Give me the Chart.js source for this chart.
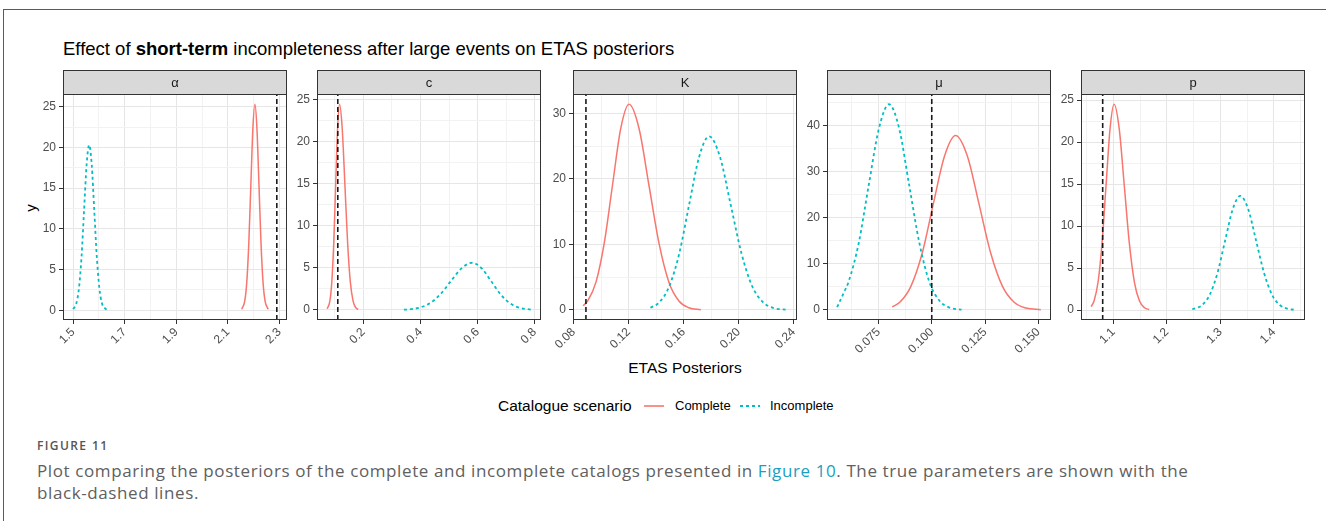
<!DOCTYPE html>
<html>
<head>
<meta charset="utf-8">
<script src="https://cdn.jsdelivr.net/npm/chart.js@4.4.1/dist/chart.umd.min.js"></script>
<style>
html,body{margin:0;padding:0;background:#fff;}
#page{position:relative;width:1326px;height:521px;overflow:hidden;font-family:"Liberation Sans",Arial,sans-serif;background:#fff;}
.frame{position:absolute;left:3px;top:9px;width:1400px;height:600px;border-left:1px solid #5a5a5a;border-top:1px solid #5a5a5a;}
canvas{position:absolute;}
.title{position:absolute;left:63px;top:40px;font-size:18.5px;line-height:18px;color:#000;white-space:nowrap;}
.title b{font-weight:bold;}
.ytitle{position:absolute;left:22px;top:199px;width:18px;height:18px;font-size:15px;line-height:18px;color:#000;transform:rotate(-90deg);text-align:center;}
.xtitle{position:absolute;left:585px;top:359px;width:200px;text-align:center;font-size:15.5px;line-height:18px;color:#000;}
.legtitle{position:absolute;left:498px;top:397px;font-size:15.5px;line-height:18px;color:#000;white-space:nowrap;}
.legtxt{position:absolute;top:398px;font-size:13px;line-height:16px;color:#000;white-space:nowrap;}
.legkey{position:absolute;top:397px;}
.caption{position:absolute;left:37px;font-family:"Open Sans","Noto Sans",sans-serif;color:#606060;white-space:nowrap;}
.fig{top:438px;font-size:12px;line-height:16px;letter-spacing:1.4px;font-weight:600;color:#555;}
.cap1{top:460px;font-size:17px;line-height:22px;letter-spacing:0.6px;}
.cap2{top:482px;font-size:17px;line-height:22px;letter-spacing:0.6px;}
.cap1 span{color:#1a9fc0;}
</style>
</head>
<body>
<div id="page">
  <div class="frame"></div>
  <div class="title">Effect of <b>short-term</b> incompleteness after large events on ETAS posteriors</div>
  <div class="ytitle">y</div>
  <div class="xtitle">ETAS Posteriors</div>
  <div class="legtitle">Catalogue scenario</div>
  <svg class="legkey" style="left:642px" width="24" height="18"><line x1="2" y1="9" x2="22" y2="9" stroke="#F8766D" stroke-width="1.6"/></svg>
  <div class="legtxt" style="left:675px">Complete</div>
  <svg class="legkey" style="left:738px" width="24" height="18"><line x1="2" y1="9" x2="22" y2="9" stroke="#00BFC4" stroke-width="1.8" stroke-dasharray="3,3"/></svg>
  <div class="legtxt" style="left:770px">Incomplete</div>
  <div class="caption fig">FIGURE 11</div>
  <div class="caption cap1">Plot comparing the posteriors of the complete and incomplete catalogs presented in <span>Figure 10</span>. The true parameters are shown with the</div>
  <div class="caption cap2">black-dashed lines.</div>
</div>
<script>
// ---------------- DATA ----------------
const panelNames = ['α', 'c', 'K', 'μ', 'p'];
const trueValues = [2.29, 0.11, 0.089, 0.1, 1.08];
const seriesNames = ['Complete', 'Incomplete'];

// alpha
const alphaCompleteX = [2.154, 2.1655, 2.1734, 2.1813, 2.1892, 2.1971, 2.205, 2.2129, 2.2208, 2.2287, 2.2366, 2.2445, 2.2564];
const alphaCompleteY = [0.13, 1.11, 3.42, 8.21, 15.34, 22.33, 25.3, 22.33, 15.34, 8.21, 3.42, 1.11, 0.13];
const alphaIncompleteX = [1.500, 1.5128, 1.5226, 1.5325, 1.5423, 1.5522, 1.562, 1.5719, 1.5817, 1.5916, 1.6014, 1.6113, 1.629];
const alphaIncompleteY = [0.14, 0.89, 2.75, 6.59, 12.31, 17.91, 20.3, 17.91, 12.31, 6.59, 2.75, 0.89, 0.06];
// c
const cCompleteX = [0.0728, 0.0823, 0.089, 0.0958, 0.1025, 0.1093, 0.116, 0.1255, 0.135, 0.1445, 0.154, 0.1635, 0.173, 0.1816];
const cCompleteY = [0.15, 1.07, 3.30, 7.92, 14.80, 21.53, 24.4, 21.53, 14.80, 7.92, 3.30, 1.07, 0.27, 0.06];
const cIncompleteX = [0.3418, 0.3673, 0.3935, 0.431, 0.4685, 0.506, 0.5435, 0.581, 0.6145, 0.648, 0.6815, 0.715, 0.7485, 0.7867];
const cIncompleteY = [0.03, 0.10, 0.25, 0.76, 1.82, 3.40, 4.94, 5.6, 4.94, 3.40, 1.82, 0.76, 0.25, 0.05];
// K
const kCompleteX = [0.087, 0.0903, 0.0963, 0.1023, 0.1083, 0.1143, 0.1203, 0.1276, 0.1348, 0.1421, 0.1493, 0.1566, 0.1638, 0.1725];
const kCompleteY = [0.66, 1.38, 4.25, 10.20, 19.04, 27.71, 31.4, 27.71, 19.04, 10.20, 4.25, 1.38, 0.35, 0.05];
const kIncompleteX = [0.1359, 0.1423, 0.1495, 0.1568, 0.164, 0.1713, 0.1785, 0.1864, 0.1942, 0.2021, 0.2099, 0.2178, 0.2256, 0.235];
const kIncompleteY = [0.35, 1.16, 3.59, 8.60, 16.07, 23.39, 26.5, 23.39, 16.07, 8.60, 3.59, 1.16, 0.29, 0.04];
// mu
const muCompleteX = [0.0814, 0.085, 0.0902, 0.0955, 0.1007, 0.106, 0.1112, 0.1167, 0.1222, 0.1277, 0.1332, 0.1387, 0.1442, 0.1512];
const muCompleteY = [0.67, 1.66, 5.13, 12.31, 22.99, 33.45, 37.9, 33.45, 22.99, 12.31, 5.13, 1.66, 0.42, 0.05];
const muIncompleteX = [0.0556, 0.0585, 0.0609, 0.0657, 0.0704, 0.0752, 0.0799, 0.0847, 0.0894, 0.0942, 0.0989, 0.1037, 0.1084, 0.114];
const muIncompleteY = [0.6, 3.56, 6.05, 14.51, 27.11, 39.45, 44.7, 39.45, 27.11, 14.51, 6.05, 1.96, 0.50, 0.07];
// p
const pCompleteX = [1.0585, 1.0638, 1.0713, 1.0788, 1.0863, 1.0938, 1.1013, 1.1108, 1.1203, 1.1298, 1.1393, 1.1488, 1.1583, 1.167];
const pCompleteY = [0.42, 1.08, 3.31, 7.96, 14.86, 21.62, 24.5, 21.62, 14.86, 7.96, 3.31, 1.08, 0.27, 0.06];
const pIncompleteX = [1.2474, 1.266, 1.2802, 1.2945, 1.3087, 1.323, 1.3372, 1.352, 1.3667, 1.3815, 1.3962, 1.411, 1.4258, 1.439];
const pIncompleteY = [0.10, 0.60, 1.84, 4.42, 8.25, 12.0, 13.6, 12.0, 8.25, 4.42, 1.84, 0.60, 0.15, 0.04];

// tick labels (major) and minor break positions
const alphaXTicks = [1.5, 1.7, 1.9, 2.1, 2.3];
const alphaXLabels = ['1.5', '1.7', '1.9', '2.1', '2.3'];
const alphaXMinor = [1.6, 1.8, 2.0, 2.2];
const cXTicks = [0.2, 0.4, 0.6, 0.8];
const cXLabels = ['0.2', '0.4', '0.6', '0.8'];
const cXMinor = [0.1, 0.3, 0.5, 0.7];
const kXTicks = [0.08, 0.12, 0.16, 0.20, 0.24];
const kXLabels = ['0.08', '0.12', '0.16', '0.20', '0.24'];
const kXMinor = [0.10, 0.14, 0.18, 0.22];
const muXTicks = [0.075, 0.100, 0.125, 0.150];
const muXLabels = ['0.075', '0.100', '0.125', '0.150'];
const muXMinor = [0.0625, 0.0875, 0.1125, 0.1375];
const pXTicks = [1.1, 1.2, 1.3, 1.4];
const pXLabels = ['1.1', '1.2', '1.3', '1.4'];
const pXMinor = [1.05, 1.15, 1.25, 1.35, 1.45];

const y25Ticks = [0, 5, 10, 15, 20, 25];
const y25Labels = ['0', '5', '10', '15', '20', '25'];
const y25Minor = [2.5, 7.5, 12.5, 17.5, 22.5];
const kYTicks = [0, 10, 20, 30];
const kYLabels = ['0', '10', '20', '30'];
const kYMinor = [5, 15, 25];
const muYTicks = [0, 10, 20, 30, 40];
const muYLabels = ['0', '10', '20', '30', '40'];
const muYMinor = [5, 15, 25, 35, 45];

// ---------------- STYLE / LAYOUT ----------------
const FONT = '"Liberation Sans", Arial, sans-serif';
const COLORS = ['#F8766D', '#00BFC4'];
const plotLeft = [63, 317, 573, 827, 1081];
const plotWidth = 224, plotTop = 94, plotHeight = 226;
const stripH = 24, yAxisW = 45, xAxisH = 48, padR = 16;

const panels = [
  {c: [alphaCompleteX, alphaCompleteY], i: [alphaIncompleteX, alphaIncompleteY], xt: alphaXTicks, xl: alphaXLabels, xm: alphaXMinor, yt: y25Ticks, yl: y25Labels, ym: y25Minor},
  {c: [cCompleteX, cCompleteY], i: [cIncompleteX, cIncompleteY], xt: cXTicks, xl: cXLabels, xm: cXMinor, yt: y25Ticks, yl: y25Labels, ym: y25Minor},
  {c: [kCompleteX, kCompleteY], i: [kIncompleteX, kIncompleteY], xt: kXTicks, xl: kXLabels, xm: kXMinor, yt: kYTicks, yl: kYLabels, ym: kYMinor},
  {c: [muCompleteX, muCompleteY], i: [muIncompleteX, muIncompleteY], xt: muXTicks, xl: muXLabels, xm: muXMinor, yt: muYTicks, yl: muYLabels, ym: muYMinor},
  {c: [pCompleteX, pCompleteY], i: [pIncompleteX, pIncompleteY], xt: pXTicks, xl: pXLabels, xm: pXMinor, yt: y25Ticks, yl: y25Labels, ym: y25Minor}
];

function toPoints(xs, ys) { return xs.map((x, k) => ({x: x, y: ys[k]})); }
function buildTicks(major, labels, minor) {
  const arr = major.map((v, k) => ({value: v, isMajor: true, lbl: labels[k]}))
    .concat(minor.map(v => ({value: v, isMajor: false, lbl: ''})));
  return arr.sort((a, b) => a.value - b.value);
}

const panelPlugin = {
  id: 'panelFrame',
  afterDatasetsDraw(chart, args, opts) {
    const a = chart.chartArea, ctx = chart.ctx;
    ctx.save();
    ctx.fillStyle = '#d9d9d9';
    ctx.fillRect(a.left, a.top - stripH, a.right - a.left, stripH);
    ctx.strokeStyle = '#333333';
    ctx.lineWidth = 1;
    ctx.strokeRect(a.left + 0.5, a.top - stripH + 0.5, a.right - a.left - 1, stripH);
    ctx.fillStyle = '#1a1a1a';
    ctx.font = '13px ' + FONT;
    ctx.textAlign = 'center';
    ctx.textBaseline = 'middle';
    ctx.fillText(opts.label, (a.left + a.right) / 2, a.top - stripH / 2 + 1);
    ctx.strokeRect(a.left + 0.5, a.top + 0.5, a.right - a.left - 1, a.bottom - a.top - 1);
    ctx.restore();
  }
};

const page = document.getElementById('page');
panels.forEach((p, idx) => {
  const allX = p.c[0].concat(p.i[0], [trueValues[idx]]);
  const allY = p.c[1].concat(p.i[1]);
  const xmin = Math.min(...allX), xmax = Math.max(...allX);
  const ymin = Math.min(...allY), ymax = Math.max(...allY);
  const xr = xmax - xmin, yr = ymax - ymin;
  const xlo = xmin - 0.05 * xr, xhi = xmax + 0.05 * xr;
  const ylo = ymin - 0.05 * yr, yhi = ymax + 0.05 * yr;

  const cv = document.createElement('canvas');
  const W = yAxisW + plotWidth + padR, H = stripH + plotHeight + xAxisH;
  cv.width = W; cv.height = H;
  cv.style.left = (plotLeft[idx] - yAxisW) + 'px';
  cv.style.top = (plotTop - stripH) + 'px';
  cv.style.width = W + 'px'; cv.style.height = H + 'px';
  page.appendChild(cv);

  const gridCommon = {
    color: c => (c.tick && c.tick.isMajor) ? '#e6e6e6' : '#f2f2f2',
    lineWidth: 1,
    tickColor: c => (c.tick && c.tick.isMajor) ? '#333333' : 'rgba(0,0,0,0)',
    tickLength: 4,
    tickWidth: 1,
    drawTicks: true,
    drawOnChartArea: true
  };

  new Chart(cv, {
    type: 'line',
    data: {
      datasets: [
        {label: 'true', data: [{x: trueValues[idx], y: ylo}, {x: trueValues[idx], y: yhi}],
         borderColor: '#1a1a1a', borderWidth: 1.6, borderDash: [5, 3], pointRadius: 0, fill: false, order: 0},
        {label: seriesNames[0], data: toPoints(p.c[0], p.c[1]), borderColor: COLORS[0], borderWidth: 1.5,
         pointRadius: 0, fill: false, cubicInterpolationMode: 'monotone', order: 2},
        {label: seriesNames[1], data: toPoints(p.i[0], p.i[1]), borderColor: COLORS[1], borderWidth: 1.8,
         borderDash: [3, 3], pointRadius: 0, fill: false, cubicInterpolationMode: 'monotone', order: 1}
      ]
    },
    options: {
      responsive: false, animation: false, devicePixelRatio: 1,
      layout: {padding: {top: stripH, right: padR, bottom: 0, left: 0}},
      plugins: {legend: {display: false}, tooltip: {enabled: false}, title: {display: false},
                panelFrame: {label: panelNames[idx]}},
      scales: {
        x: {
          type: 'linear', position: 'bottom', min: xlo, max: xhi,
          afterBuildTicks: s => { s.ticks = buildTicks(p.xt, p.xl, p.xm).filter(t => t.value >= xlo && t.value <= xhi); },
          afterFit: s => { s.height = xAxisH; s.paddingLeft = 0; s.paddingRight = 0; s.paddingTop = 0; s.paddingBottom = 0; },
          ticks: {autoSkip: false, minRotation: 45, maxRotation: 45, padding: 1, color: '#4d4d4d',
                  font: {family: FONT, size: 12}, callback: (v, k, t) => t[k].lbl},
          grid: gridCommon,
          border: {display: false}
        },
        y: {
          type: 'linear', position: 'left', min: ylo, max: yhi,
          afterBuildTicks: s => { s.ticks = buildTicks(p.yt, p.yl, p.ym).filter(t => t.value >= ylo && t.value <= yhi); },
          afterFit: s => { s.width = yAxisW; s.paddingTop = 0; s.paddingBottom = 0; s.paddingLeft = 0; s.paddingRight = 0; },
          ticks: {autoSkip: false, padding: 3, color: '#4d4d4d', font: {family: FONT, size: 12},
                  callback: (v, k, t) => t[k].lbl},
          grid: gridCommon,
          border: {display: false}
        }
      }
    },
    plugins: [panelPlugin]
  });
});
</script>
</body>
</html>
